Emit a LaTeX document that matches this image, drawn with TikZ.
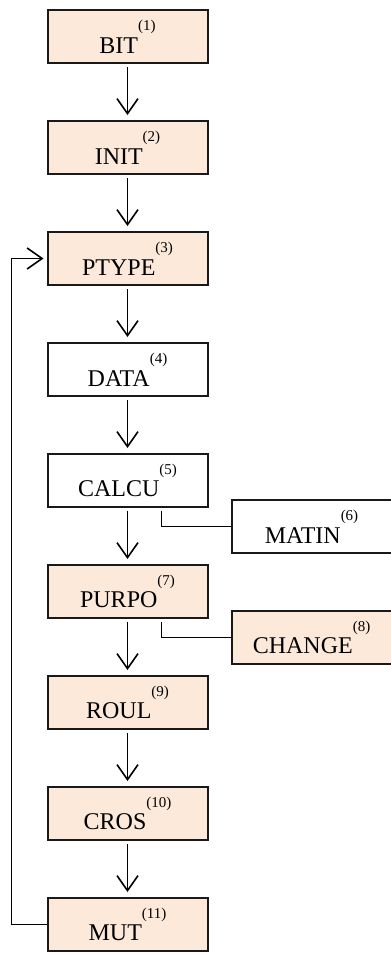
\documentclass[tikz,border=0pt]{standalone}
\usepackage{fontspec}
\setmainfont{Liberation Serif}
\usepackage{xcolor}
\usetikzlibrary{positioning,arrows.meta}

\definecolor{peach}{RGB}{252,233,218}
\newcommand{\steplabel}[2]{#1\raisebox{0.95em}{\fontsize{15}{15}\selectfont(#2)}}

\begin{document}
\begin{tikzpicture}[
    x=1pt, y=-1pt,
    node distance=56pt,
    box/.style={draw=black!90, line width=2pt, rectangle, minimum height=53pt,
      minimum width=160pt, inner sep=0pt, align=center,
      font=\fontsize{24}{24}\selectfont, fill=white},
    arrow/.style={-{Straight Barb[length=15pt,width=21pt]}, line width=1.6pt,
      shorten <=3pt, shorten >=5pt},
    link/.style={line width=1.6pt, shorten <=3pt}
  ]
    \useasboundingbox (0,0) rectangle (391,954);

    \node[box, fill=peach] (bit) at (127.5,36.5) {\steplabel{BIT}{1}};
    \node[box, fill=peach, below=of bit] (init) {\steplabel{INIT}{2}};
    \node[box, fill=peach, below=of init] (ptype) {\steplabel{PTYPE}{3}};
    \node[box, below=of ptype] (data) {\steplabel{DATA}{4}};
    \node[box, below=of data] (calcu) {\steplabel{CALCU}{5}};
    \node[box, below right=-9pt and 22pt of calcu] (matin) {\steplabel{MATIN}{6}};
    \node[box, fill=peach, below=of calcu] (purpo) {\steplabel{PURPO}{7}};
    \node[box, fill=peach, below right=-9pt and 22pt of purpo] (change) {\steplabel{CHANGE}{8}};
    \node[box, fill=peach, below=of purpo] (roul) {\steplabel{ROUL}{9}};
    \node[box, fill=peach, below=of roul] (cros) {\steplabel{CROS}{10}};
    \node[box, fill=peach, below=of cros] (mut) {\steplabel{MUT}{11}};

    \draw[arrow] (bit) -- (init);
    \draw[arrow] (init) -- (ptype);
    \draw[arrow] (ptype) -- (data);
    \draw[arrow] (data) -- (calcu);
    \draw[arrow] (calcu) -- (purpo);
    \draw[arrow] (purpo) -- (roul);
    \draw[arrow] (roul) -- (cros);
    \draw[arrow] (cros) -- (mut);
    \draw[link] ([xshift=34pt]calcu.south) |- (matin.west);
    \draw[link] ([xshift=34pt]purpo.south) |- (change.west);
    \draw[arrow, shorten <=0pt, shorten >=3pt] (mut.west) -- ++(-35,0) |- (ptype.west);
  \end{tikzpicture}
\end{document}
